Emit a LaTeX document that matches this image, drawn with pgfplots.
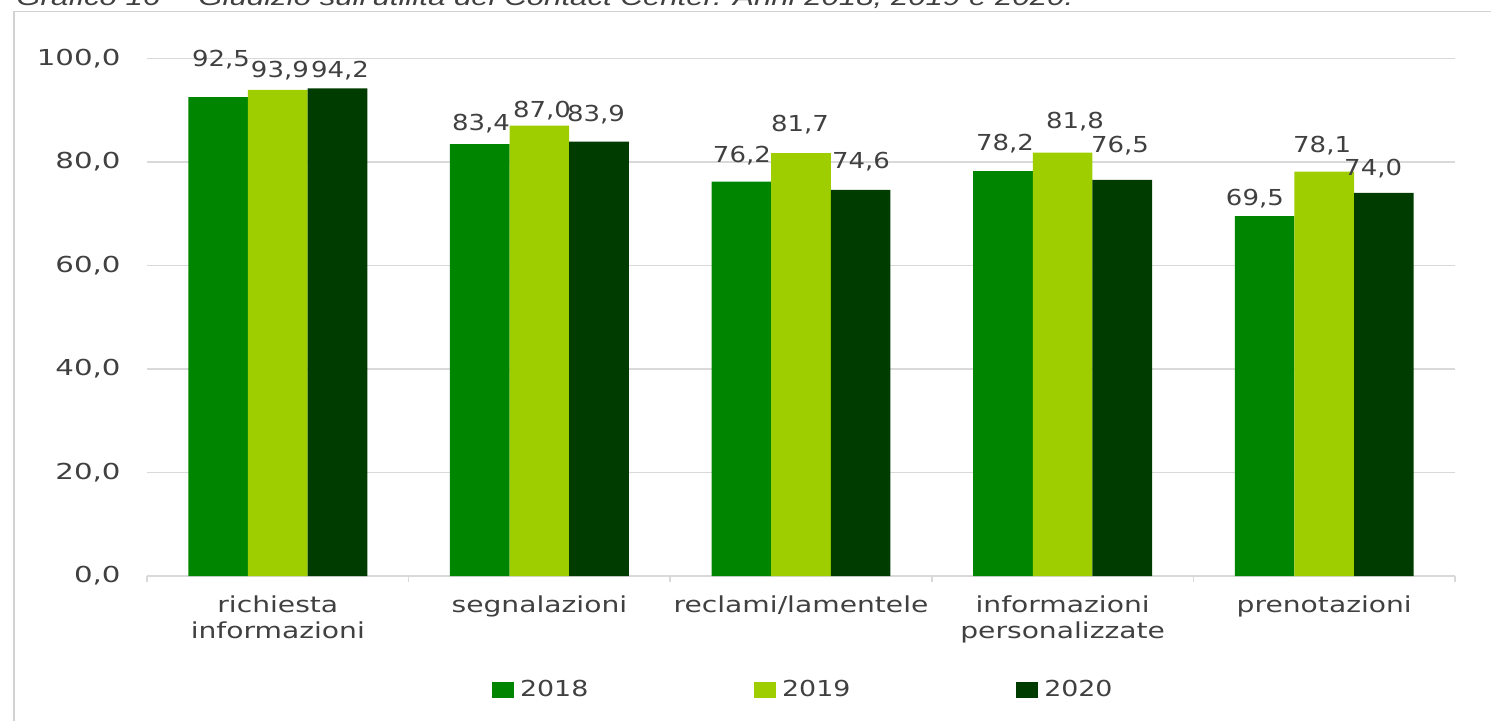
\documentclass[border=0pt]{standalone}
\usepackage{fontspec}
\usepackage{pgfplots}
\pgfplotsset{compat=1.18}
\setmainfont{DejaVu Sans}
\newfontfamily\tickfont{DejaVu Sans}[FakeStretch=1.33]
\newfontfamily\catfont{DejaVu Sans}[FakeStretch=1.28]
\newfontfamily\datafont{DejaVu Sans}[FakeStretch=1.18]
\newfontfamily\legfont{DejaVu Sans}[FakeStretch=1.22]
\newfontfamily\titlefont{Liberation Sans}[FakeStretch=1.3]

\definecolor{c2018}{RGB}{0,133,0}
\definecolor{c2019}{RGB}{159,206,0}
\definecolor{c2020}{RGB}{0,60,0}
\definecolor{txtgray}{RGB}{64,64,64}
\definecolor{gridgray}{RGB}{217,217,217}
\definecolor{framegray}{RGB}{210,210,210}

% value labels: x position (axis units), y position, text
\pgfplotstableread{
x       y      lab
-0.217  99.77  92,5
0.008   97.55  93,9
0.238   97.55  94,2
0.777   87.31  83,4
1.010   89.82  87,0
1.216   89.05  83,9
1.774   81.13  76,2
1.996   87.12  81,7
2.229   79.97  74,6
2.780   83.45  78,2
3.047   87.70  81,8
3.219   83.06  76,5
3.735   72.86  69,5
3.992   83.06  78,1
4.187   78.61  74,0
}\labels

\begin{document}
\begin{tikzpicture}
\useasboundingbox (0,0) rectangle (745.5pt,360pt);
\clip (0,0) rectangle (745.5pt,360pt);

% caption of the original page, cut at the top
\node[anchor=base west, inner sep=0pt, text=txtgray,
      font=\fontsize{12}{14}\selectfont\titlefont\itshape]
  at (8pt,357.5pt) {Grafico 16 -- Giudizio sull'utilità del Contact Center. Anni 2018, 2019 e 2020.};
\draw[framegray, line width=0.75pt] (7pt,-2pt) -- (7pt,354.25pt) -- (760pt,354.25pt);

\begin{axis}[
    at={(73.5pt,72pt)}, anchor=south west,
    scale only axis,
    width=654pt, height=258.85pt,
    xmin=-0.5, xmax=4.5,
    ymin=0, ymax=100,
    clip=false,
    axis x line*=bottom, axis y line*=left,
    y axis line style={draw=none},
    x axis line style={draw=gridgray, line width=0.75pt},
    xtick={0,1,2,3,4},
    xticklabels={richiesta\\informazioni, segnalazioni, reclami/lamentele,
                 informazioni\\personalizzate, prenotazioni},
    minor xtick={-0.5,0.5,1.5,2.5,3.5,4.5},
    major tick length=0pt,
    minor tick length=3pt,
    tick align=outside,
    minor x tick style={draw=gridgray, line width=0.75pt},
    ytick={0,20,40,60,80,100},
    ymajorgrids,
    grid style={draw=gridgray, line width=0.75pt},
    xticklabel style={font=\fontsize{11}{13.25}\selectfont\catfont, text=txtgray,
                      align=center, anchor=north, inner sep=0pt, yshift=-9.6pt},
    yticklabel style={font=\fontsize{11}{13}\selectfont\tickfont, text=txtgray,
                      anchor=east, inner sep=0pt, xshift=-13pt,
                      /pgf/number format/.cd, fixed, fixed zerofill, precision=1,
                      use comma, assume math mode=true},
    legend columns=3,
    legend style={at={(0.2638,-0.2202)}, anchor=west, draw=none, fill=none,
                  inner sep=0pt, outer sep=0pt, text=txtgray,
                  font=\fontsize{11}{13}\selectfont\legfont,
                  nodes={inner sep=0pt},
                  /tikz/every odd column/.append style={column sep=3pt},
                  /tikz/every even column/.append style={column sep=82.9pt}},
    legend image code/.code={\fill[#1] (0pt,-4pt) rectangle (11pt,4pt);},
]
\addplot[ybar, bar width=0.228, bar shift=-0.228, fill=c2018, draw=none]
    coordinates {(0,92.5) (1,83.4) (2,76.2) (3,78.2) (4,69.5)};
\addlegendentry{2018}
\addplot[ybar, bar width=0.228, bar shift=0, fill=c2019, draw=none]
    coordinates {(0,93.9) (1,87.0) (2,81.7) (3,81.8) (4,78.1)};
\addlegendentry{2019}
\addplot[ybar, bar width=0.228, bar shift=0.228, fill=c2020, draw=none]
    coordinates {(0,94.2) (1,83.9) (2,74.6) (3,76.5) (4,74.0)};
\addlegendentry{2020}

% data labels
\addplot[draw=none, mark=none, forget plot, nodes near coords,
         point meta=explicit symbolic,
         every node near coord/.append style={anchor=center, inner sep=0pt,
            text=txtgray, font=\fontsize{11}{13}\selectfont\datafont}]
    table[x=x, y=y, meta=lab] {\labels};
\end{axis}
\end{tikzpicture}
\end{document}
